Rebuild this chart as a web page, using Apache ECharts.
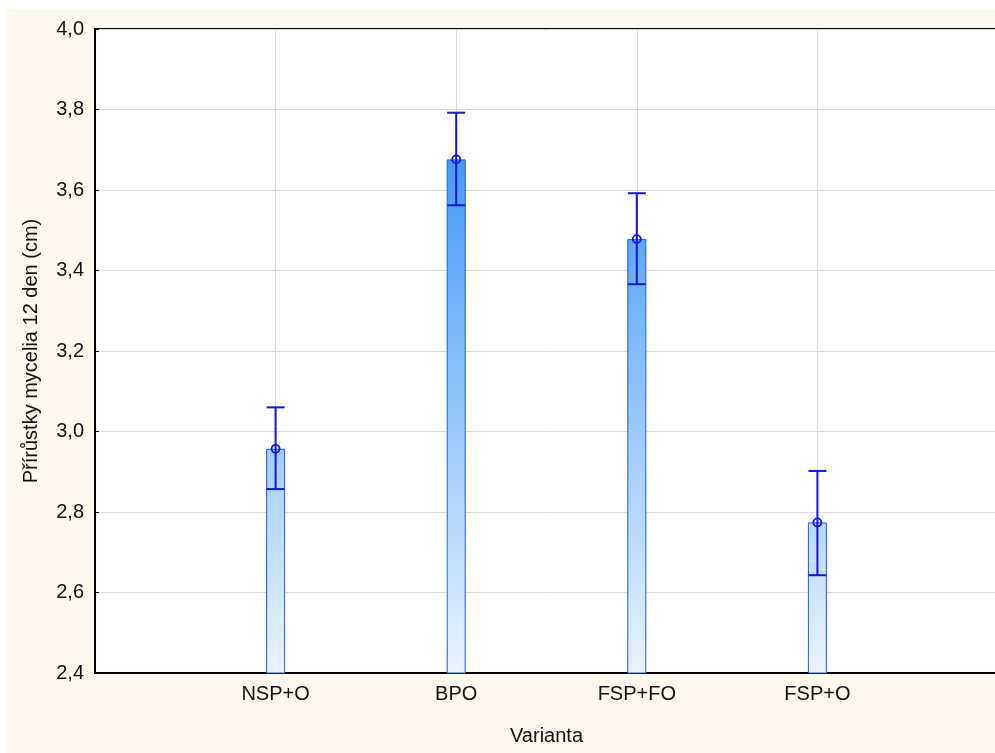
<!DOCTYPE html>
<html>
<head>
<meta charset="utf-8">
<script src="https://cdn.jsdelivr.net/npm/echarts@6/dist/echarts.min.js"></script>
<style>
html,body{margin:0;padding:0;background:#ffffff;overflow:hidden;}
#chart{width:995px;height:753px;}
</style>
</head>
<body>
<div id="chart"></div>
<script>
// ---- data ----
var categories = ['NSP+O', 'BPO', 'FSP+FO', 'FSP+O'];
var means = [2.957, 3.676, 3.478, 2.774];
var lowerCI = [2.857, 3.562, 3.366, 2.643];
var upperCI = [3.060, 3.792, 3.592, 2.902];
var yTicks = [2.4, 2.6, 2.8, 3.0, 3.2, 3.4, 3.6, 3.8, 4.0];
var xTitle = 'Varianta';
var yTitle = 'Přírůstky mycelia 12 den (cm)';

// axis padded with empty slots on both sides
var axisCats = [''].concat(categories).concat(['']);
var barData = [null].concat(means).concat([null]);
var errData = categories.map(function (c, i) {
  return [i + 1, means[i], lowerCI[i], upperCI[i]];
});

var FONT = '"Liberation Sans", Arial, sans-serif';
var chart = echarts.init(document.getElementById('chart'), null, {renderer: 'canvas'});

var option = {
  backgroundColor: '#ffffff',
  animation: false,
  graphic: [{
    type: 'rect', z: -10, silent: true,
    shape: {x: 7, y: 9, width: 990, height: 746},
    style: {fill: '#fdf9ef'}
  }],
  grid: {
    left: 95, top: 29, right: -3, bottom: 80,
    show: true, backgroundColor: '#ffffff', borderColor: '#000000', borderWidth: 2,
    containLabel: false,
    outerBoundsMode: 'none'
  },
  xAxis: {
    type: 'category',
    data: axisCats,
    boundaryGap: false,
    name: xTitle,
    nameLocation: 'middle',
    nameGap: 53,
    nameTextStyle: {fontFamily: FONT, fontSize: 20, color: '#111'},
    axisLine: {lineStyle: {color: '#000', width: 2}},
    axisTick: {show: true, inside: true, length: 3, alignWithLabel: true, lineStyle: {color: '#000'}},
    axisLabel: {fontFamily: FONT, fontSize: 20, color: '#111', margin: 11, interval: 0},
    splitLine: {show: true, lineStyle: {color: '#dcdcdc', width: 1}}
  },
  yAxis: {
    type: 'value',
    min: yTicks[0],
    max: yTicks[yTicks.length - 1],
    interval: 0.2,
    name: yTitle,
    nameLocation: 'middle',
    nameGap: 54,
    nameTextStyle: {fontFamily: FONT, fontSize: 20, color: '#111'},
    axisLine: {show: true, lineStyle: {color: '#000', width: 2}},
    axisTick: {show: true, inside: true, length: 4, lineStyle: {color: '#000'}},
    axisLabel: {
      fontFamily: FONT, fontSize: 20, color: '#111', margin: 11,
      formatter: function (v) { return v.toFixed(1).replace('.', ','); }
    },
    splitLine: {show: true, lineStyle: {color: '#dcdcdc', width: 1}}
  },
  series: [
    {
      type: 'bar',
      data: barData,
      barWidth: 19,
      itemStyle: {
        color: new echarts.graphic.LinearGradient(0, 673, 0, 29, [
          {offset: 0, color: '#e8f3fe'},
          {offset: 1, color: '#1a84f4'}
        ], true),
        borderColor: '#1c5ce2',
        borderWidth: 1
      },
      z: 2
    },
    {
      type: 'custom',
      data: errData,
      z: 5,
      renderItem: function (params, api) {
        var x = api.value(0);
        var pMean = api.coord([x, api.value(1)]);
        var pLow = api.coord([x, api.value(2)]);
        var pHigh = api.coord([x, api.value(3)]);
        var half = 9;
        var st = {stroke: '#1414e6', lineWidth: 2, fill: null};
        return {
          type: 'group',
          children: [
            {type: 'line', shape: {x1: pLow[0], y1: pLow[1], x2: pHigh[0], y2: pHigh[1]}, style: st},
            {type: 'line', shape: {x1: pLow[0] - half, y1: pLow[1], x2: pLow[0] + half, y2: pLow[1]}, style: st},
            {type: 'line', shape: {x1: pHigh[0] - half, y1: pHigh[1], x2: pHigh[0] + half, y2: pHigh[1]}, style: st},
            {type: 'circle', shape: {cx: pMean[0], cy: pMean[1], r: 4}, style: {stroke: '#1414e6', lineWidth: 1.8, fill: 'rgba(0,0,0,0)'}}
          ]
        };
      }
    }
  ]
};
chart.setOption(option);
</script>
</body>
</html>
